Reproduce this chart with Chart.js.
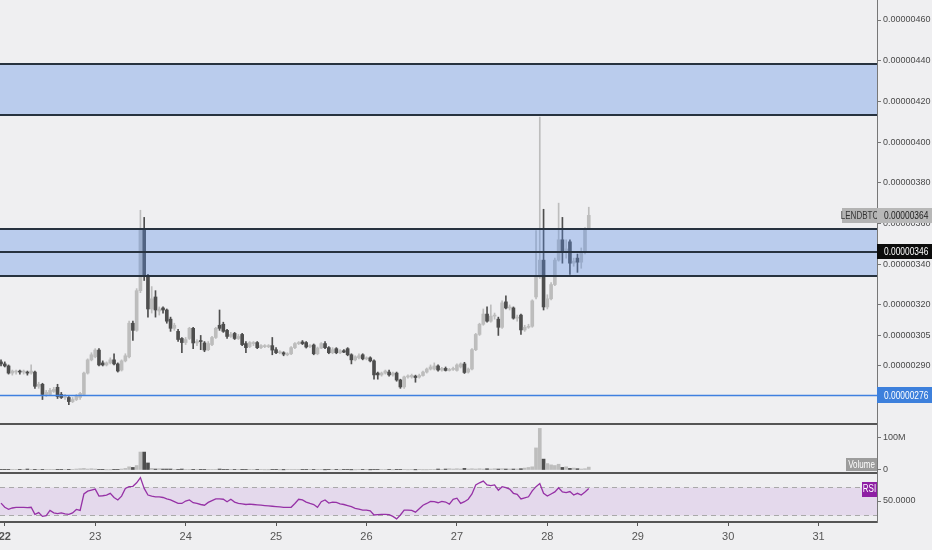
<!DOCTYPE html>
<html lang="en">
<head>
<meta charset="UTF-8">
<title>LENDBTC 1h</title>
<script src="https://cdn.jsdelivr.net/npm/chart.js"></script>
<style>
  body { margin: 0; padding: 0; background: #efeff1; }
  #wrap { width: 932px; height: 550px; }
</style>
</head>
<body>
<div id="wrap"><canvas id="chart" width="932" height="550"></canvas></div>
<script>
// prices in satoshi (1e-8 BTC), one candle per hour
const symbol = 'LENDBTC';
const firstHour = -1; // hours counted from the 22nd 00:00
const dayLabels = ['22', '23', '24', '25', '26', '27', '28', '29', '30', '31'];
const priceTicks = [290, 305, 320, 340, 360, 380, 400, 420, 440, 460];
const volumeTicks = [0, 100];
const rsiTicks = [50];

const opens = [
  292, 291, 290, 286.5, 287, 287.5, 287, 287, 286.5, 287,
  280, 281, 276, 276, 277.5, 279.5, 276, 274.5, 274.5, 272.5,
  273.5, 274.5, 276, 286.5, 293, 294.5, 297.8, 291.5, 290.5, 291.5,
  293, 291, 288, 292.5, 294.5, 311, 307.5, 327, 357, 334,
  318, 323.9, 317, 318.5, 317.5, 313, 308.5, 307, 303.5, 301.5,
  303.5, 308.5, 301.3, 302.5, 301.3, 298, 300.5, 304, 310, 310.5,
  307.5, 304.5, 306, 303.5, 305.5, 301, 299.5, 301, 301.5, 299,
  299.5, 299.5, 300, 298, 296.5, 296.5, 295.5, 296, 299, 301,
  301.8, 301.5, 299.5, 300.3, 296, 298.8, 301, 299, 296.5, 298.5,
  296.5, 297.5, 298.5, 295.5, 293, 294, 295.5, 293.5, 294, 292.5,
  286.5, 285.6, 286.5, 287, 285.6, 286.5, 283.1, 279.7, 284.6, 284.6,
  285, 284.5, 285.3, 287, 288.5, 288.5, 290, 288, 288.8, 287.8,
  288.3, 287.8, 289.5, 291, 287, 288.5, 298, 305.5, 310.5, 315.5,
  312, 314.5, 313, 309, 321.5, 318.5, 318.5, 313.5, 315, 307.7,
  309, 309.5, 323.9, 333.7, 342, 319, 323, 330, 342, 352,
  346, 351, 340.5, 343, 341, 346, 357.5
];
const highs = [
  293, 292, 290.5, 288, 288, 288, 288, 287.5, 290.5, 287.5,
  282, 281.5, 278, 279, 279.5, 281, 277, 276, 275, 274.5,
  276, 277, 287, 293.5, 296.5, 298.5, 298.5, 292.5, 292, 294,
  296, 291.5, 293, 296, 312, 312, 328, 366.5, 363, 335,
  329, 327, 319, 319, 318, 314, 311, 308, 304, 304,
  309, 309, 303, 305, 302, 302, 304.5, 309, 317.5, 311.5,
  308, 306.5, 306.5, 305.5, 306, 302, 302, 302, 302, 300.5,
  300.5, 300.5, 304, 299, 297.5, 297, 296.5, 299.5, 301.5, 302,
  302.5, 302, 300.5, 300.8, 299.3, 301.5, 302, 299.5, 299, 299,
  298, 298, 299, 296, 295, 296, 296, 294.5, 294.5, 293,
  287, 287, 288, 288, 287, 287, 283.5, 285, 285.6, 286,
  285.5, 286, 287.5, 289, 290.5, 291.5, 290.5, 289.3, 289.5, 288.8,
  289.5, 291, 291.5, 291.8, 289, 298.5, 306, 311, 318, 319,
  320, 316, 314, 322, 324.5, 320, 319, 315, 315.5, 310,
  310.5, 322.5, 356.5, 412.3, 367, 325, 331, 343, 370, 363,
  352, 352, 343, 345, 348, 358, 368
];
const lows = [
  290, 289.5, 286, 285.5, 286, 286, 286, 285.5, 286, 279,
  279, 273.5, 275, 275.5, 277, 274, 274, 273.5, 271, 272,
  273, 273.5, 275.5, 286, 292.5, 294, 290, 290, 290, 291,
  290.5, 287, 287.5, 292, 294, 302.5, 307, 326, 332, 314,
  316, 314, 315, 316, 311, 307, 307.5, 302, 296.5, 300.5,
  303, 298.5, 300, 298, 297, 297.5, 300, 303.5, 307.5, 306.5,
  303.5, 304, 303, 303, 300, 296.5, 299, 300, 298.5, 298.5,
  299, 299, 295.5, 296, 296, 295, 295, 295.5, 298.5, 300.5,
  300.5, 298.8, 299, 295.5, 295.5, 298.5, 298.5, 296, 296, 296,
  296, 296.5, 295, 291, 292.5, 293.5, 293, 293, 292, 283.5,
  283.5, 285, 286, 285, 285, 282.5, 279, 279, 284, 284,
  282, 284, 285, 286.5, 288, 288, 287.5, 287.5, 287.5, 287.5,
  287.8, 287.5, 289, 286.3, 286.5, 288, 297.5, 305, 310, 311.5,
  311.5, 313, 305, 308.5, 318, 317.5, 313, 312, 305.5, 307,
  308.5, 309, 323, 333, 317.5, 318, 322.5, 329.5, 341.5, 340.5,
  343, 335, 339, 336, 338, 345, 357
];
const closes = [
  291, 290, 286.5, 287.5, 287.5, 287, 287.5, 286.5, 287.5, 280,
  281, 276, 277, 278, 278.5, 275, 274.5, 275, 272.5, 273.5,
  275, 276.5, 286.5, 293, 295.5, 297.8, 290.5, 290.5, 291.5, 293,
  291, 287.5, 292.5, 295, 311, 307.5, 327, 357, 334, 318,
  323, 317.5, 318, 317.5, 312, 308.5, 310, 303, 301.5, 303,
  308.5, 301.3, 302, 302, 297.8, 301, 304, 308.5, 308.5, 307,
  304.5, 305.5, 303.5, 304.5, 300.5, 299, 301.5, 301.5, 299, 300,
  300, 299.8, 297.8, 296.5, 297, 295.8, 296, 299, 301, 301.5,
  301, 299.3, 300, 296, 298.8, 301, 299, 296.5, 298, 296.5,
  297.5, 296.8, 295.5, 293, 294.5, 295, 293.5, 294, 292.5, 285.6,
  285.6, 286.5, 287.5, 285.6, 286.5, 283.1, 279.7, 284.6, 285.1, 285.4,
  284.3, 285.3, 287, 288.5, 289.5, 290, 288, 288.8, 287.8, 288.3,
  288.8, 290.5, 291, 286.8, 288.5, 298, 305.5, 310.5, 315.5, 312,
  314.5, 315, 309, 321, 318.5, 319, 313.5, 314, 307.7, 309,
  309.5, 322, 333.7, 342, 319, 323, 330, 342, 352, 346,
  347.5, 340.5, 341.5, 341, 346, 357.5, 364
];
// volume in millions
const volumes = [
  1, 1, 1, 1, 2, 1, 1, 3, 2, 1,
  1, 2, 1, 1, 2, 1, 2, 2, 1, 2,
  3, 4, 5, 3, 4, 3, 2, 1, 0.5, 0.5,
  1, 2, 3, 5, 10, 8, 14, 56, 56, 22,
  5, 3, 4, 3, 3, 3, 2, 2, 3, 2,
  2, 1, 2, 1, 2, 1, 2, 2, 3, 2,
  2, 1, 2, 2, 1, 2, 1, 1, 2, 1,
  0.5, 0.5, 2, 1, 0.5, 0.5, 1, 2, 1, 2,
  2, 2, 1, 2, 1, 1, 0.5, 2, 2, 1,
  0.5, 1, 2, 0.5, 0.5, 1, 2, 1, 0.5, 2,
  2, 2, 1, 2, 0.5, 1, 2, 1, 0.5, 2,
  0.5, 1, 0.5, 0.5, 1, 2, 3, 2, 3, 4,
  3, 4, 3, 5, 3, 4, 3, 4, 3, 4,
  3, 4, 3, 4, 3, 3, 3, 3, 4, 6,
  8, 10, 69, 130, 34, 20, 16, 14, 18, 8,
  10, 5, 6, 4, 3, 4, 9
];
const rsiValues = [
  47, 41, 38, 40, 41, 41, 41, 40.5, 41, 31,
  33.5, 28, 29, 36.5, 33, 32, 33, 31.5, 31, 33,
  38, 36.5, 60, 64, 65.5, 67, 57, 57.5, 58.5, 61,
  55, 51.5, 57, 68, 70.5, 71, 76, 83.5, 68, 58.5,
  57, 56, 56, 55, 53, 51.5, 49, 46.5, 46.5, 50,
  51.5, 47.5, 46.5, 45, 44, 48, 50.5, 53, 53, 52.5,
  49, 52.5, 48.5, 46.5, 46, 45, 45.5, 45, 44.5, 44,
  43.5, 43, 42.5, 42, 41.5, 41, 41, 41, 46.5, 52.5,
  51.5, 48.5, 46.5, 45, 41, 49, 51.5, 47, 48.5, 48,
  46, 45, 43.5, 42, 39.5, 38.5, 37, 37, 36, 30,
  30.5, 31, 31, 30.5, 28, 24.5, 30, 37, 37, 36.5,
  34, 39, 44, 46.5, 49.5, 49, 47.5, 49.5, 48.5, 45.5,
  52.5, 54, 46.5, 49, 52.5, 60, 73, 76, 78.5, 73,
  72, 73, 65.5, 70.5, 69, 67, 61, 59.5, 53, 54.5,
  56, 64.5, 70.5, 75, 61, 57, 60, 63, 69, 63,
  62, 63.5, 58.5, 61, 58.5, 63, 68
];

// drawn levels (satoshi)
const zones = [[413.3, 438.4], [346, 357.3], [334.2, 346]];
const supportLevel = 275.6;
const markedLevel = 346;
const rsiBand = [30, 70];

const UP = '#bdbdbd';
const DOWN = '#4e4e4e';
const FAMILY = "'Liberation Sans', Arial, sans-serif";
const axisFont = { family: FAMILY, size: 9 };

const fmtPrice = v => (v / 1e8).toFixed(8);
const isUp = i => closes[i] >= opens[i];
const candleColor = ctx => isUp(ctx.dataIndex) ? UP : DOWN;

const wickData = opens.map((o, i) => ({ x: firstHour + i, y: [lows[i], highs[i]] }));
const bodyData = opens.map((o, i) => ({ x: firstHour + i, y: [o, closes[i]] }));
const volData = volumes.map((v, i) => ({ x: firstHour + i, y: v }));
const rsiData = rsiValues.map((v, i) => ({ x: firstHour + i, y: v }));

function fitY(scale) {
    scale.width = 55;
    scale.paddingTop = 0;
    scale.paddingBottom = 0;
}

function hline(ctx, x1, x2, y) {
    ctx.beginPath();
    ctx.moveTo(x1, y);
    ctx.lineTo(x2, y);
    ctx.stroke();
}

// label box with horizontally squeezed text (narrow look of the original)
function tag(ctx, x, yc, w, h, bg, fg, text, size, center) {
    ctx.fillStyle = bg;
    ctx.fillRect(x, Math.round(yc - h / 2), w, h);
    ctx.save();
    ctx.fillStyle = fg;
    ctx.font = size + 'px ' + FAMILY;
    ctx.textBaseline = 'middle';
    ctx.textAlign = center ? 'center' : 'left';
    ctx.translate(center ? x + w / 2 : x + 7, yc + 0.5);
    ctx.scale(0.8, 1);
    ctx.fillText(text, 0, 0);
    ctx.restore();
}

const decor = {
    id: 'decor',
    beforeDraw(chart) {
        const ctx = chart.ctx;
        ctx.save();
        ctx.fillStyle = '#efeff1';
        ctx.fillRect(0, 0, chart.width, chart.height);
        ctx.restore();
    },
    beforeDatasetsDraw(chart) {
        const { ctx, chartArea } = chart;
        const r = chart.scales.yRsi;
        const top = Math.round(r.getPixelForValue(rsiBand[1])) + 0.5;
        const bot = Math.round(r.getPixelForValue(rsiBand[0])) + 0.5;
        ctx.save();
        ctx.fillStyle = 'rgba(165, 95, 205, 0.15)';
        ctx.fillRect(chartArea.left, top, chartArea.right - chartArea.left, bot - top);
        ctx.strokeStyle = '#a9a9a9';
        ctx.lineWidth = 1;
        ctx.setLineDash([5, 4]);
        hline(ctx, chartArea.left, chartArea.right, top);
        hline(ctx, chartArea.left, chartArea.right, bot);
        ctx.restore();
    },
    afterDatasetsDraw(chart) {
        const { ctx, chartArea } = chart;
        const y = chart.scales.y;
        const left = chartArea.left, right = chartArea.right;
        ctx.save();
        // zones
        ctx.fillStyle = 'rgba(90, 140, 230, 0.35)';
        zones.forEach(([lo, hi]) => {
            const a = y.getPixelForValue(hi), b = y.getPixelForValue(lo);
            ctx.fillRect(left, a, right - left, b - a);
        });
        ctx.strokeStyle = '#27323f';
        ctx.lineWidth = 2;
        zones.forEach(([lo, hi]) => {
            hline(ctx, left, right, Math.round(y.getPixelForValue(hi)));
            hline(ctx, left, right, Math.round(y.getPixelForValue(lo)));
        });
        // support line
        ctx.strokeStyle = '#3f80e0';
        ctx.lineWidth = 1.5;
        hline(ctx, left, right, Math.round(y.getPixelForValue(supportLevel)) + 0.5);
        // pane separators
        ctx.strokeStyle = '#555';
        ctx.lineWidth = 2;
        hline(ctx, left, right, Math.round(chart.scales.yVol.top));
        hline(ctx, left, right, Math.round(chart.scales.yRsi.top));
        ctx.restore();
    },
    afterDraw(chart) {
        const { ctx, chartArea } = chart;
        const y = chart.scales.y;
        const ax = chartArea.right;
        ctx.save();
        const last = closes[closes.length - 1];
        const yl = y.getPixelForValue(last);
        tag(ctx, ax - 35, yl, 35, 15, '#b3b3b3', '#333', symbol, 10, true);
        tag(ctx, ax, yl, 55, 15, '#b8b8b8', '#222', fmtPrice(last), 10.5);
        tag(ctx, ax, y.getPixelForValue(markedLevel), 55, 15, '#0c0c0c', '#fff', fmtPrice(markedLevel), 10.5);
        tag(ctx, ax, y.getPixelForValue(supportLevel), 55, 16, '#3d80dc', '#fff', fmtPrice(supportLevel), 10.5);
        const v0 = chart.scales.yVol.getPixelForValue(0);
        tag(ctx, ax - 31, v0 - 5, 31, 13, '#9c9c9c', '#fff', 'Volume', 10, true);
        const rt = chart.scales.yRsi.top;
        tag(ctx, ax - 15, rt + 16, 15, 15, '#8e1fa4', '#fff', 'RSI', 10, true);
        ctx.restore();
    }
};

new Chart(document.getElementById('chart'), {
    type: 'bar',
    data: {
        datasets: [
            { label: 'wick', data: wickData, yAxisID: 'y', backgroundColor: candleColor, barThickness: 1, grouped: false },
            { label: 'body', data: bodyData, yAxisID: 'y', backgroundColor: candleColor, barThickness: 3, minBarLength: 1, grouped: false },
            { label: 'Volume', data: volData, yAxisID: 'yVol', backgroundColor: candleColor, barThickness: 3, grouped: false },
            { type: 'line', label: 'RSI', data: rsiData, yAxisID: 'yRsi', borderColor: '#9632a6', borderWidth: 1.3, pointRadius: 0, tension: 0 }
        ]
    },
    options: {
        responsive: false,
        animation: false,
        devicePixelRatio: 1,
        layout: { padding: 0 },
        plugins: { legend: { display: false }, tooltip: { enabled: false } },
        scales: {
            x: {
                type: 'linear', min: -1.27, max: 231.5, offset: false,
                afterBuildTicks: s => { s.ticks = dayLabels.map((d, i) => ({ value: i * 24 })); },
                afterFit: s => { s.height = 28; s.paddingLeft = 0; s.paddingRight = 0; },
                ticks: {
                    callback: v => dayLabels[Math.round(v / 24)],
                    color: '#555', padding: 4, maxRotation: 0, autoSkip: false,
                    font: ctx => ({ family: FAMILY, size: 11, weight: ctx.index === 0 ? 'bold' : 'normal' })
                },
                grid: { drawOnChartArea: false, offset: false, tickLength: 4, color: '#555' },
                border: { color: '#555', width: 2 }
            },
            y: {
                type: 'linear', position: 'right', stack: 'panes', stackWeight: 424,
                min: 261.48, max: 469.83, beginAtZero: false,
                afterBuildTicks: s => { s.ticks = priceTicks.map(v => ({ value: v })); },
                afterFit: fitY,
                ticks: { callback: v => fmtPrice(v), color: '#4a4a4a', font: axisFont, padding: 2 },
                grid: { drawOnChartArea: false, tickLength: 4, color: '#777' },
                border: { color: '#777' }
            },
            yVol: {
                type: 'linear', position: 'right', stack: 'panes', stackWeight: 49,
                min: -9.4, max: 143.75, beginAtZero: false,
                afterBuildTicks: s => { s.ticks = volumeTicks.map(v => ({ value: v })); },
                afterFit: fitY,
                ticks: { callback: v => v === 0 ? '0' : v + 'M', color: '#4a4a4a', font: axisFont, padding: 2 },
                grid: { drawOnChartArea: false, tickLength: 4, color: '#777' },
                border: { color: '#777' }
            },
            yRsi: {
                type: 'linear', position: 'right', stack: 'panes', stackWeight: 49,
                min: 20, max: 90, beginAtZero: false,
                afterBuildTicks: s => { s.ticks = rsiTicks.map(v => ({ value: v })); },
                afterFit: fitY,
                ticks: { callback: v => v.toFixed(4), color: '#4a4a4a', font: axisFont, padding: 2 },
                grid: { drawOnChartArea: false, tickLength: 4, color: '#777' },
                border: { color: '#777' }
            }
        }
    },
    plugins: [decor]
});
</script>
</body>
</html>
